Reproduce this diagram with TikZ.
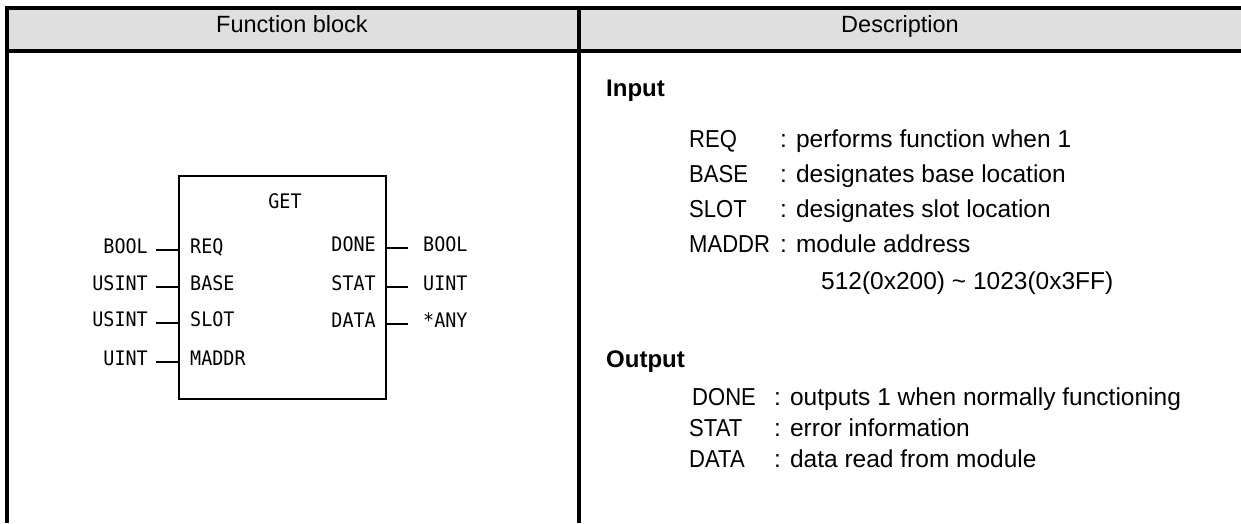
\documentclass[tikz,border=0pt]{standalone}
\usepackage{fontspec}
\setmainfont{Liberation Sans}
\newfontfamily\fbfont[FakeStretch=0.92]{DejaVu Sans Mono}
\newfontfamily\lblfont[FakeStretch=0.9]{Liberation Sans}
\begin{document}
\begin{tikzpicture}[x=1pt,y=-1pt,
  frame/.style={line width=4pt},
  hdr/.style={font=\fontsize{23.5}{26}\selectfont, inner sep=0pt, text height=0.72em, text depth=0pt},
  desc/.style={font=\fontsize{24.5}{27}\selectfont, inner sep=0pt, text height=0.72em, text depth=0pt, anchor=west},
  lbl/.style={desc, font=\lblfont\fontsize{24.5}{27}\selectfont},
  bdesc/.style={desc, font=\bfseries\fontsize{24}{27}\selectfont},
  fb/.style={font=\fbfont\fontsize{20}{22}\selectfont, inner sep=0pt, text height=0.73em, text depth=0pt},
  stub/.style={line width=2.8pt}]
\useasboundingbox (0,0) rectangle (1241,523);
% header
\fill[fill={rgb,255:red,223;green,223;blue,223}] (7,8) rectangle (1241,51);
\draw[frame] (5,7.7) -- (1241,7.7);
\draw[frame] (5,51) -- (1241,51);
\draw[frame] (7,5.7) -- (7,523);
\draw[frame] (579,5.7) -- (579,523);
\node[hdr] (h1) at (292,29) {Function block};
\node[hdr] (h2) at (900,29) {Description};
% function block
\node[draw, line width=2pt, minimum width=207pt, minimum height=223pt, inner sep=0pt, anchor=north west] (blk) at (178,175) {};
\node[fb] (get) at (285,205) {GET};
\foreach \nm/\ty/\yy in {REQ/BOOL/250, BASE/USINT/287, SLOT/USINT/323, MADDR/UINT/362}{
  \coordinate (in\nm) at (178,\yy);
  \coordinate (st\nm) at (156,\yy);
  \draw[stub] (st\nm) -- (in\nm);
  \node[fb, anchor=west] (lab\nm) at (190,\yy) {\nm};
  \node[fb, anchor=east] (ty\nm) at (148,\yy) {\ty};
}
\foreach \nm/\ty/\yy in {DONE/BOOL/248, STAT/UINT/287, DATA/*ANY/324}{
  \coordinate (out\nm) at (385,\yy);
  \coordinate (ost\nm) at (408,\yy);
  \draw[stub] (out\nm) -- (ost\nm);
  \node[fb, anchor=east] (olab\nm) at (376,\yy) {\nm};
  \node[fb, anchor=west] (oty\nm) at (423,\yy) {\ty};
}
% description
\node[bdesc] (inp) at (606,93) {Input};
\node[lbl] (dreq) at (689,144) {REQ};
\node[lbl] (dbase) at (689,179) {BASE};
\node[lbl] (dslot) at (689,214) {SLOT};
\node[lbl] (dmaddr) at (689,249) {MADDR};
\node[desc] (creq) at (780,144) {: performs function when 1};
\node[desc] (cbase) at (780,179) {: designates base location};
\node[desc] (cslot) at (780,214) {: designates slot location};
\node[desc] (cmaddr) at (780,249) {: module address};
\node[desc] (range) at (821,286) {512(0x200) \textasciitilde{} 1023(0x3FF)};
\node[bdesc] (outp) at (606,364) {Output};
\node[lbl] (ddone) at (692,402) {DONE};
\node[lbl] (dstat) at (689,433) {STAT};
\node[lbl] (ddata) at (689,464) {DATA};
\node[desc] (cdone) at (774,402) {: outputs 1 when normally functioning};
\node[desc] (cstat) at (774,433) {: error information};
\node[desc] (cdata) at (774,464) {: data read from module};
\end{tikzpicture}
\end{document}
